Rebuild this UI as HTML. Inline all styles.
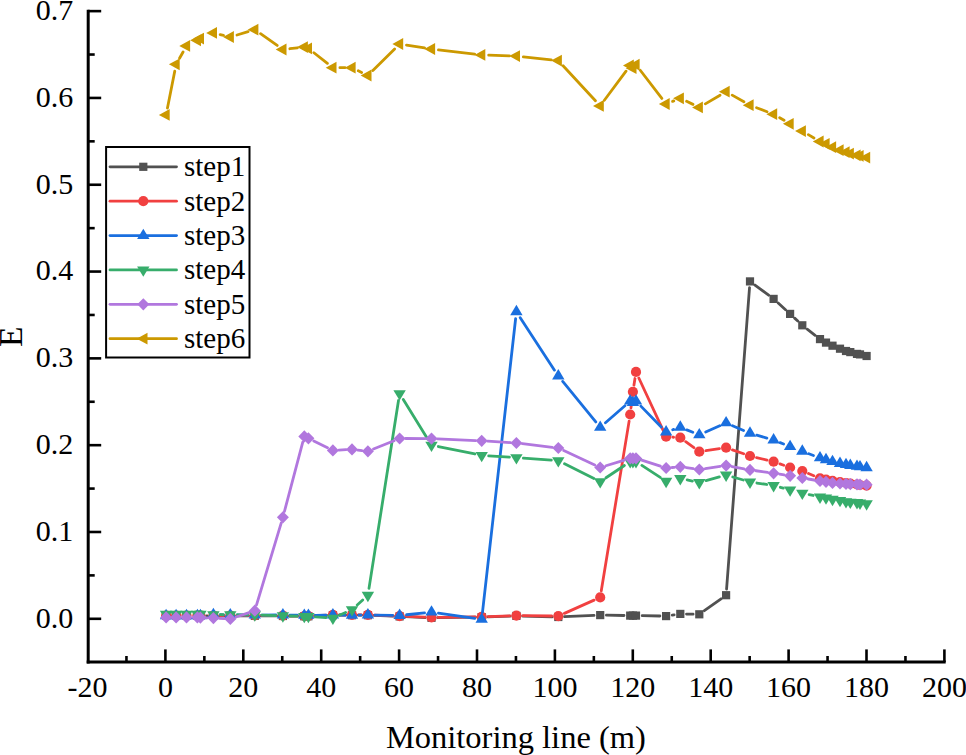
<!DOCTYPE html>
<html><head><meta charset="utf-8"><style>
html,body{margin:0;padding:0;background:#fff;}
svg{display:block;}
text{font-family:"Liberation Serif",serif;fill:#000;}
</style></head><body>
<svg width="966" height="755" viewBox="0 0 966 755">
<rect width="966" height="755" fill="#fff"/>
<path d="M206.60 615.80L207.20 615.80M219.60 615.80L224.10 615.80M236.50 615.80L248.60 615.80M261.00 615.84L276.70 615.96M289.10 616.09L298.10 616.21M314.59 616.02L326.71 615.48M339.10 615.20L345.80 615.20M358.20 615.20L361.70 615.20M374.10 615.43L393.40 616.17M405.79 616.67L425.31 617.53M437.70 617.71L475.50 617.19M487.90 616.89L510.20 616.11M522.60 616.06L552.10 616.84M564.49 616.72L594.01 615.38M606.40 615.20L624.00 615.50M642.20 615.70L659.90 616.00M672.23 615.15L674.17 614.85M686.50 614.03L693.10 614.17M704.35 610.70L721.05 598.80M726.57 589.02L749.53 287.58M754.98 285.09L768.62 295.21M778.19 303.07L785.51 309.73M794.63 318.13L797.77 321.07M807.19 329.11L815.11 335.29" stroke="#515151" stroke-width="2.8" fill="none" stroke-linecap="round"/>
<g><rect x="162.00" y="611.70" width="8.2" height="8.2" fill="#515151"/><rect x="172.00" y="611.70" width="8.2" height="8.2" fill="#515151"/><rect x="182.40" y="611.70" width="8.2" height="8.2" fill="#515151"/><rect x="193.30" y="611.70" width="8.2" height="8.2" fill="#515151"/><rect x="196.30" y="611.70" width="8.2" height="8.2" fill="#515151"/><rect x="209.30" y="611.70" width="8.2" height="8.2" fill="#515151"/><rect x="226.20" y="611.70" width="8.2" height="8.2" fill="#515151"/><rect x="250.70" y="611.70" width="8.2" height="8.2" fill="#515151"/><rect x="278.80" y="611.90" width="8.2" height="8.2" fill="#515151"/><rect x="300.20" y="612.20" width="8.2" height="8.2" fill="#515151"/><rect x="304.30" y="612.20" width="8.2" height="8.2" fill="#515151"/><rect x="328.80" y="611.10" width="8.2" height="8.2" fill="#515151"/><rect x="347.90" y="611.10" width="8.2" height="8.2" fill="#515151"/><rect x="363.80" y="611.10" width="8.2" height="8.2" fill="#515151"/><rect x="395.50" y="612.30" width="8.2" height="8.2" fill="#515151"/><rect x="427.40" y="613.70" width="8.2" height="8.2" fill="#515151"/><rect x="477.60" y="613.00" width="8.2" height="8.2" fill="#515151"/><rect x="512.30" y="611.80" width="8.2" height="8.2" fill="#515151"/><rect x="554.20" y="612.90" width="8.2" height="8.2" fill="#515151"/><rect x="596.10" y="611.00" width="8.2" height="8.2" fill="#515151"/><rect x="626.10" y="611.50" width="8.2" height="8.2" fill="#515151"/><rect x="628.80" y="611.50" width="8.2" height="8.2" fill="#515151"/><rect x="631.90" y="611.50" width="8.2" height="8.2" fill="#515151"/><rect x="662.00" y="612.00" width="8.2" height="8.2" fill="#515151"/><rect x="676.20" y="609.80" width="8.2" height="8.2" fill="#515151"/><rect x="695.20" y="610.20" width="8.2" height="8.2" fill="#515151"/><rect x="722.00" y="591.10" width="8.2" height="8.2" fill="#515151"/><rect x="745.90" y="277.30" width="8.2" height="8.2" fill="#515151"/><rect x="769.50" y="294.80" width="8.2" height="8.2" fill="#515151"/><rect x="786.00" y="309.80" width="8.2" height="8.2" fill="#515151"/><rect x="798.20" y="321.20" width="8.2" height="8.2" fill="#515151"/><rect x="815.90" y="335.00" width="8.2" height="8.2" fill="#515151"/><rect x="821.90" y="338.50" width="8.2" height="8.2" fill="#515151"/><rect x="828.40" y="341.60" width="8.2" height="8.2" fill="#515151"/><rect x="835.90" y="344.60" width="8.2" height="8.2" fill="#515151"/><rect x="841.90" y="346.90" width="8.2" height="8.2" fill="#515151"/><rect x="846.20" y="348.00" width="8.2" height="8.2" fill="#515151"/><rect x="852.90" y="349.80" width="8.2" height="8.2" fill="#515151"/><rect x="855.90" y="350.30" width="8.2" height="8.2" fill="#515151"/><rect x="862.50" y="351.90" width="8.2" height="8.2" fill="#515151"/></g>
<path d="M220.10 615.50L223.60 615.50M237.00 615.50L248.10 615.50M261.50 615.55L276.20 615.65M289.60 615.79L297.60 615.91M315.09 615.70L326.21 615.20M339.60 614.90L345.30 614.90M358.70 614.90L361.20 614.90M374.60 615.15L392.90 615.85M406.29 616.39L424.81 617.21M438.20 617.41L475.00 616.89M488.40 616.57L509.70 615.83M523.10 615.68L551.60 616.02M564.42 613.37L594.08 600.13M601.28 590.79L629.12 421.11M630.99 407.85L632.11 398.45M633.93 385.18L634.97 378.52M638.82 377.98L663.28 430.62M672.78 437.17L673.62 437.23M685.69 441.67L693.91 447.73M705.93 450.71L719.47 448.69M732.43 449.90L743.67 453.80M756.51 457.57L767.09 460.13M779.92 463.92L783.78 465.28M808.49 473.55L813.81 475.75" stroke="#F14040" stroke-width="2.8" fill="none" stroke-linecap="round"/>
<g><circle cx="166.10" cy="615.50" r="5.1" fill="#F14040"/><circle cx="176.10" cy="615.50" r="5.1" fill="#F14040"/><circle cx="186.50" cy="615.50" r="5.1" fill="#F14040"/><circle cx="197.40" cy="615.50" r="5.1" fill="#F14040"/><circle cx="200.40" cy="615.50" r="5.1" fill="#F14040"/><circle cx="213.40" cy="615.50" r="5.1" fill="#F14040"/><circle cx="230.30" cy="615.50" r="5.1" fill="#F14040"/><circle cx="254.80" cy="615.50" r="5.1" fill="#F14040"/><circle cx="282.90" cy="615.70" r="5.1" fill="#F14040"/><circle cx="304.30" cy="616.00" r="5.1" fill="#F14040"/><circle cx="308.40" cy="616.00" r="5.1" fill="#F14040"/><circle cx="332.90" cy="614.90" r="5.1" fill="#F14040"/><circle cx="352.00" cy="614.90" r="5.1" fill="#F14040"/><circle cx="367.90" cy="614.90" r="5.1" fill="#F14040"/><circle cx="399.60" cy="616.10" r="5.1" fill="#F14040"/><circle cx="431.50" cy="617.50" r="5.1" fill="#F14040"/><circle cx="481.70" cy="616.80" r="5.1" fill="#F14040"/><circle cx="516.40" cy="615.60" r="5.1" fill="#F14040"/><circle cx="558.30" cy="616.10" r="5.1" fill="#F14040"/><circle cx="600.20" cy="597.40" r="5.1" fill="#F14040"/><circle cx="630.20" cy="414.50" r="5.1" fill="#F14040"/><circle cx="632.90" cy="391.80" r="5.1" fill="#F14040"/><circle cx="636.00" cy="371.90" r="5.1" fill="#F14040"/><circle cx="666.10" cy="436.70" r="5.1" fill="#F14040"/><circle cx="680.30" cy="437.70" r="5.1" fill="#F14040"/><circle cx="699.30" cy="451.70" r="5.1" fill="#F14040"/><circle cx="726.10" cy="447.70" r="5.1" fill="#F14040"/><circle cx="750.00" cy="456.00" r="5.1" fill="#F14040"/><circle cx="773.60" cy="461.70" r="5.1" fill="#F14040"/><circle cx="790.10" cy="467.50" r="5.1" fill="#F14040"/><circle cx="802.30" cy="471.00" r="5.1" fill="#F14040"/><circle cx="820.00" cy="478.30" r="5.1" fill="#F14040"/><circle cx="826.00" cy="479.50" r="5.1" fill="#F14040"/><circle cx="832.50" cy="480.80" r="5.1" fill="#F14040"/><circle cx="840.00" cy="482.00" r="5.1" fill="#F14040"/><circle cx="846.00" cy="483.00" r="5.1" fill="#F14040"/><circle cx="850.30" cy="483.60" r="5.1" fill="#F14040"/><circle cx="857.00" cy="484.50" r="5.1" fill="#F14040"/><circle cx="860.00" cy="485.00" r="5.1" fill="#F14040"/><circle cx="866.60" cy="485.60" r="5.1" fill="#F14040"/></g>
<path d="M220.40 614.72L223.30 614.78M237.30 614.96L247.80 615.04M261.80 615.08L275.90 615.02M289.90 615.13L297.30 615.27M315.40 615.29L325.90 615.11M339.90 615.07L345.00 615.13M359.00 615.11L360.90 615.09M374.90 615.11L392.60 615.39M406.56 614.76L424.54 612.84M438.43 613.11L474.77 618.39M482.48 612.44L515.62 318.76M520.23 317.66L554.47 370.14M562.72 381.43L595.78 421.97M605.46 422.79L624.94 405.71M640.88 406.11L661.22 426.99M672.73 429.76L673.67 429.44M686.79 429.83L692.81 432.27M705.69 432.04L719.71 425.76M732.53 425.67L743.57 430.43M756.73 435.14L766.87 438.06M780.10 442.60L783.60 444.00M808.86 453.75L813.44 455.45" stroke="#1A6FDF" stroke-width="2.8" fill="none" stroke-linecap="round"/>
<g><polygon points="166.10,608.87 172.30,619.27 159.90,619.27" fill="#1A6FDF"/><polygon points="176.10,608.87 182.30,619.27 169.90,619.27" fill="#1A6FDF"/><polygon points="186.50,608.87 192.70,619.27 180.30,619.27" fill="#1A6FDF"/><polygon points="197.40,608.87 203.60,619.27 191.20,619.27" fill="#1A6FDF"/><polygon points="200.40,608.87 206.60,619.27 194.20,619.27" fill="#1A6FDF"/><polygon points="213.40,607.67 219.60,618.07 207.20,618.07" fill="#1A6FDF"/><polygon points="230.30,607.97 236.50,618.37 224.10,618.37" fill="#1A6FDF"/><polygon points="254.80,608.17 261.00,618.57 248.60,618.57" fill="#1A6FDF"/><polygon points="282.90,608.07 289.10,618.47 276.70,618.47" fill="#1A6FDF"/><polygon points="304.30,608.47 310.50,618.87 298.10,618.87" fill="#1A6FDF"/><polygon points="308.40,608.47 314.60,618.87 302.20,618.87" fill="#1A6FDF"/><polygon points="332.90,608.07 339.10,618.47 326.70,618.47" fill="#1A6FDF"/><polygon points="352.00,608.27 358.20,618.67 345.80,618.67" fill="#1A6FDF"/><polygon points="367.90,608.07 374.10,618.47 361.70,618.47" fill="#1A6FDF"/><polygon points="399.60,608.57 405.80,618.97 393.40,618.97" fill="#1A6FDF"/><polygon points="431.50,605.17 437.70,615.57 425.30,615.57" fill="#1A6FDF"/><polygon points="481.70,612.47 487.90,622.87 475.50,622.87" fill="#1A6FDF"/><polygon points="516.40,304.87 522.60,315.27 510.20,315.27" fill="#1A6FDF"/><polygon points="558.30,369.07 564.50,379.47 552.10,379.47" fill="#1A6FDF"/><polygon points="600.20,420.47 606.40,430.87 594.00,430.87" fill="#1A6FDF"/><polygon points="630.20,394.17 636.40,404.57 624.00,404.57" fill="#1A6FDF"/><polygon points="632.90,395.67 639.10,406.07 626.70,406.07" fill="#1A6FDF"/><polygon points="636.00,394.17 642.20,404.57 629.80,404.57" fill="#1A6FDF"/><polygon points="666.10,425.07 672.30,435.47 659.90,435.47" fill="#1A6FDF"/><polygon points="680.30,420.27 686.50,430.67 674.10,430.67" fill="#1A6FDF"/><polygon points="699.30,427.97 705.50,438.37 693.10,438.37" fill="#1A6FDF"/><polygon points="726.10,415.97 732.30,426.37 719.90,426.37" fill="#1A6FDF"/><polygon points="750.00,426.27 756.20,436.67 743.80,436.67" fill="#1A6FDF"/><polygon points="773.60,433.07 779.80,443.47 767.40,443.47" fill="#1A6FDF"/><polygon points="790.10,439.67 796.30,450.07 783.90,450.07" fill="#1A6FDF"/><polygon points="802.30,444.37 808.50,454.77 796.10,454.77" fill="#1A6FDF"/><polygon points="820.00,450.97 826.20,461.37 813.80,461.37" fill="#1A6FDF"/><polygon points="826.00,452.87 832.20,463.27 819.80,463.27" fill="#1A6FDF"/><polygon points="832.50,454.67 838.70,465.07 826.30,465.07" fill="#1A6FDF"/><polygon points="840.00,456.57 846.20,466.97 833.80,466.97" fill="#1A6FDF"/><polygon points="846.00,457.67 852.20,468.07 839.80,468.07" fill="#1A6FDF"/><polygon points="850.30,458.57 856.50,468.97 844.10,468.97" fill="#1A6FDF"/><polygon points="857.00,459.47 863.20,469.87 850.80,469.87" fill="#1A6FDF"/><polygon points="860.00,459.97 866.20,470.37 853.80,470.37" fill="#1A6FDF"/><polygon points="866.60,460.87 872.80,471.27 860.40,471.27" fill="#1A6FDF"/></g>
<path d="M220.40 614.68L223.30 614.72M237.30 614.80L247.80 614.80M261.80 615.05L275.90 615.55M289.90 616.00L297.30 616.20M315.38 616.88L325.92 617.62M339.30 615.25L345.60 612.45M357.20 604.92L362.70 599.98M368.99 588.38L398.51 400.52M403.29 399.55L427.81 439.15M438.36 446.51L474.84 453.99M488.69 455.84L509.41 457.16M523.38 458.10L551.32 460.10M564.56 463.74L593.94 478.46M606.02 477.72L624.38 465.48M641.87 465.42L660.23 477.38M687.15 479.94L692.45 481.06M706.04 480.61L719.36 476.89M732.82 476.97L743.28 480.03M756.92 483.03L766.68 484.47M780.36 487.30L783.34 488.10M809.14 494.61L813.16 495.49" stroke="#37AD6B" stroke-width="2.8" fill="none" stroke-linecap="round"/>
<g><polygon points="166.10,621.13 172.30,610.73 159.90,610.73" fill="#37AD6B"/><polygon points="176.10,621.13 182.30,610.73 169.90,610.73" fill="#37AD6B"/><polygon points="186.50,621.13 192.70,610.73 180.30,610.73" fill="#37AD6B"/><polygon points="197.40,621.13 203.60,610.73 191.20,610.73" fill="#37AD6B"/><polygon points="200.40,621.13 206.60,610.73 194.20,610.73" fill="#37AD6B"/><polygon points="213.40,621.53 219.60,611.13 207.20,611.13" fill="#37AD6B"/><polygon points="230.30,621.73 236.50,611.33 224.10,611.33" fill="#37AD6B"/><polygon points="254.80,621.73 261.00,611.33 248.60,611.33" fill="#37AD6B"/><polygon points="282.90,622.73 289.10,612.33 276.70,612.33" fill="#37AD6B"/><polygon points="304.30,623.33 310.50,612.93 298.10,612.93" fill="#37AD6B"/><polygon points="308.40,623.33 314.60,612.93 302.20,612.93" fill="#37AD6B"/><polygon points="332.90,625.03 339.10,614.63 326.70,614.63" fill="#37AD6B"/><polygon points="352.00,616.53 358.20,606.13 345.80,606.13" fill="#37AD6B"/><polygon points="367.90,602.23 374.10,591.83 361.70,591.83" fill="#37AD6B"/><polygon points="399.60,400.53 405.80,390.13 393.40,390.13" fill="#37AD6B"/><polygon points="431.50,452.03 437.70,441.63 425.30,441.63" fill="#37AD6B"/><polygon points="481.70,462.33 487.90,451.93 475.50,451.93" fill="#37AD6B"/><polygon points="516.40,464.53 522.60,454.13 510.20,454.13" fill="#37AD6B"/><polygon points="558.30,467.53 564.50,457.13 552.10,457.13" fill="#37AD6B"/><polygon points="600.20,488.53 606.40,478.13 594.00,478.13" fill="#37AD6B"/><polygon points="630.20,468.53 636.40,458.13 624.00,458.13" fill="#37AD6B"/><polygon points="632.90,468.53 639.10,458.13 626.70,458.13" fill="#37AD6B"/><polygon points="636.00,468.53 642.20,458.13 629.80,458.13" fill="#37AD6B"/><polygon points="666.10,488.13 672.30,477.73 659.90,477.73" fill="#37AD6B"/><polygon points="680.30,485.43 686.50,475.03 674.10,475.03" fill="#37AD6B"/><polygon points="699.30,489.43 705.50,479.03 693.10,479.03" fill="#37AD6B"/><polygon points="726.10,481.93 732.30,471.53 719.90,471.53" fill="#37AD6B"/><polygon points="750.00,488.93 756.20,478.53 743.80,478.53" fill="#37AD6B"/><polygon points="773.60,492.43 779.80,482.03 767.40,482.03" fill="#37AD6B"/><polygon points="790.10,496.83 796.30,486.43 783.90,486.43" fill="#37AD6B"/><polygon points="802.30,500.03 808.50,489.63 796.10,489.63" fill="#37AD6B"/><polygon points="820.00,503.93 826.20,493.53 813.80,493.53" fill="#37AD6B"/><polygon points="826.00,504.83 832.20,494.43 819.80,494.43" fill="#37AD6B"/><polygon points="832.50,506.23 838.70,495.83 826.30,495.83" fill="#37AD6B"/><polygon points="840.00,507.33 846.20,496.93 833.80,496.93" fill="#37AD6B"/><polygon points="846.00,508.53 852.20,498.13 839.80,498.13" fill="#37AD6B"/><polygon points="850.30,509.03 856.50,498.63 844.10,498.63" fill="#37AD6B"/><polygon points="857.00,509.43 863.20,499.03 850.80,499.03" fill="#37AD6B"/><polygon points="860.00,509.93 866.20,499.53 853.80,499.53" fill="#37AD6B"/><polygon points="866.60,510.63 872.80,500.23 860.40,500.23" fill="#37AD6B"/></g>
<path d="M206.40 617.83L207.40 617.87M219.39 618.38L224.31 618.62M235.99 617.00L249.11 612.60M256.53 604.95L281.17 523.05M284.43 511.50L302.77 442.20M313.78 440.96L327.52 447.74M338.89 450.09L346.01 449.71M357.96 450.11L361.94 450.59M373.46 449.05L394.04 440.75M405.60 438.52L425.50 438.58M437.49 438.86L475.71 440.54M487.69 441.18L510.41 442.62M522.36 443.71L552.34 447.29M563.74 450.53L594.76 464.97M605.94 465.74L624.46 460.06M641.71 460.14L660.39 466.16M672.08 467.49L674.32 467.31M686.24 467.64L693.36 468.66M705.24 468.64L720.16 466.46M732.01 466.66L744.09 468.84M755.94 470.76L767.66 472.44M779.53 474.20L784.17 474.90M808.22 479.00L814.08 480.00" stroke="#B177DE" stroke-width="2.8" fill="none" stroke-linecap="round"/>
<g><polygon points="166.10,611.30 172.10,617.40 166.10,623.50 160.10,617.40" fill="#B177DE"/><polygon points="176.10,611.30 182.10,617.40 176.10,623.50 170.10,617.40" fill="#B177DE"/><polygon points="186.50,611.30 192.50,617.40 186.50,623.50 180.50,617.40" fill="#B177DE"/><polygon points="197.40,611.30 203.40,617.40 197.40,623.50 191.40,617.40" fill="#B177DE"/><polygon points="200.40,611.50 206.40,617.60 200.40,623.70 194.40,617.60" fill="#B177DE"/><polygon points="213.40,612.00 219.40,618.10 213.40,624.20 207.40,618.10" fill="#B177DE"/><polygon points="230.30,612.80 236.30,618.90 230.30,625.00 224.30,618.90" fill="#B177DE"/><polygon points="254.80,604.60 260.80,610.70 254.80,616.80 248.80,610.70" fill="#B177DE"/><polygon points="282.90,511.20 288.90,517.30 282.90,523.40 276.90,517.30" fill="#B177DE"/><polygon points="304.30,430.30 310.30,436.40 304.30,442.50 298.30,436.40" fill="#B177DE"/><polygon points="308.40,432.20 314.40,438.30 308.40,444.40 302.40,438.30" fill="#B177DE"/><polygon points="332.90,444.30 338.90,450.40 332.90,456.50 326.90,450.40" fill="#B177DE"/><polygon points="352.00,443.30 358.00,449.40 352.00,455.50 346.00,449.40" fill="#B177DE"/><polygon points="367.90,445.20 373.90,451.30 367.90,457.40 361.90,451.30" fill="#B177DE"/><polygon points="399.60,432.40 405.60,438.50 399.60,444.60 393.60,438.50" fill="#B177DE"/><polygon points="431.50,432.50 437.50,438.60 431.50,444.70 425.50,438.60" fill="#B177DE"/><polygon points="481.70,434.70 487.70,440.80 481.70,446.90 475.70,440.80" fill="#B177DE"/><polygon points="516.40,436.90 522.40,443.00 516.40,449.10 510.40,443.00" fill="#B177DE"/><polygon points="558.30,441.90 564.30,448.00 558.30,454.10 552.30,448.00" fill="#B177DE"/><polygon points="600.20,461.40 606.20,467.50 600.20,473.60 594.20,467.50" fill="#B177DE"/><polygon points="630.20,452.20 636.20,458.30 630.20,464.40 624.20,458.30" fill="#B177DE"/><polygon points="632.90,452.20 638.90,458.30 632.90,464.40 626.90,458.30" fill="#B177DE"/><polygon points="636.00,452.20 642.00,458.30 636.00,464.40 630.00,458.30" fill="#B177DE"/><polygon points="666.10,461.90 672.10,468.00 666.10,474.10 660.10,468.00" fill="#B177DE"/><polygon points="680.30,460.70 686.30,466.80 680.30,472.90 674.30,466.80" fill="#B177DE"/><polygon points="699.30,463.40 705.30,469.50 699.30,475.60 693.30,469.50" fill="#B177DE"/><polygon points="726.10,459.50 732.10,465.60 726.10,471.70 720.10,465.60" fill="#B177DE"/><polygon points="750.00,463.80 756.00,469.90 750.00,476.00 744.00,469.90" fill="#B177DE"/><polygon points="773.60,467.20 779.60,473.30 773.60,479.40 767.60,473.30" fill="#B177DE"/><polygon points="790.10,469.70 796.10,475.80 790.10,481.90 784.10,475.80" fill="#B177DE"/><polygon points="802.30,471.90 808.30,478.00 802.30,484.10 796.30,478.00" fill="#B177DE"/><polygon points="820.00,474.90 826.00,481.00 820.00,487.10 814.00,481.00" fill="#B177DE"/><polygon points="826.00,475.70 832.00,481.80 826.00,487.90 820.00,481.80" fill="#B177DE"/><polygon points="832.50,476.80 838.50,482.90 832.50,489.00 826.50,482.90" fill="#B177DE"/><polygon points="840.00,477.40 846.00,483.50 840.00,489.60 834.00,483.50" fill="#B177DE"/><polygon points="846.00,477.70 852.00,483.80 846.00,489.90 840.00,483.80" fill="#B177DE"/><polygon points="850.30,478.00 856.30,484.10 850.30,490.20 844.30,484.10" fill="#B177DE"/><polygon points="857.00,478.20 863.00,484.30 857.00,490.40 851.00,484.30" fill="#B177DE"/><polygon points="860.00,478.40 866.00,484.50 860.00,490.60 854.00,484.50" fill="#B177DE"/><polygon points="866.60,478.60 872.60,484.70 866.60,490.80 860.60,484.70" fill="#B177DE"/></g>
<path d="M167.46 108.03L174.74 71.17M179.54 58.21L183.06 51.99M220.20 34.55L223.50 35.35M237.01 35.00L248.09 31.70M260.52 33.73L277.18 45.47M289.86 48.72L297.34 47.88M313.90 52.73L327.40 63.37M339.90 67.70L345.00 67.70M358.28 70.78L361.62 72.42M372.87 70.57L394.63 48.93M406.52 45.08L424.58 47.92M438.45 49.82L474.75 54.08M488.70 55.14L509.40 55.86M523.36 56.85L551.34 59.85M563.05 65.74L595.45 100.76M604.37 100.28L626.03 71.12M640.26 70.26L661.84 98.44M672.60 101.39L673.80 100.91M686.61 101.32L692.99 104.38M705.34 103.86L720.06 95.24M732.19 95.14L743.91 101.76M756.54 107.69L767.06 111.71M779.65 117.72L784.05 120.28M808.34 134.65L813.96 137.95" stroke="#CC9900" stroke-width="2.8" fill="none" stroke-linecap="round"/>
<g><polygon points="158.90,114.90 169.70,109.00 169.70,120.80" fill="#CC9900"/><polygon points="168.90,64.30 179.70,58.40 179.70,70.20" fill="#CC9900"/><polygon points="179.30,45.90 190.10,40.00 190.10,51.80" fill="#CC9900"/><polygon points="190.20,40.30 201.00,34.40 201.00,46.20" fill="#CC9900"/><polygon points="193.20,38.60 204.00,32.70 204.00,44.50" fill="#CC9900"/><polygon points="206.20,32.90 217.00,27.00 217.00,38.80" fill="#CC9900"/><polygon points="223.10,37.00 233.90,31.10 233.90,42.90" fill="#CC9900"/><polygon points="247.60,29.70 258.40,23.80 258.40,35.60" fill="#CC9900"/><polygon points="275.70,49.50 286.50,43.60 286.50,55.40" fill="#CC9900"/><polygon points="297.10,47.10 307.90,41.20 307.90,53.00" fill="#CC9900"/><polygon points="301.20,48.40 312.00,42.50 312.00,54.30" fill="#CC9900"/><polygon points="325.70,67.70 336.50,61.80 336.50,73.60" fill="#CC9900"/><polygon points="344.80,67.70 355.60,61.80 355.60,73.60" fill="#CC9900"/><polygon points="360.70,75.50 371.50,69.60 371.50,81.40" fill="#CC9900"/><polygon points="392.40,44.00 403.20,38.10 403.20,49.90" fill="#CC9900"/><polygon points="424.30,49.00 435.10,43.10 435.10,54.90" fill="#CC9900"/><polygon points="474.50,54.90 485.30,49.00 485.30,60.80" fill="#CC9900"/><polygon points="509.20,56.10 520.00,50.20 520.00,62.00" fill="#CC9900"/><polygon points="551.10,60.60 561.90,54.70 561.90,66.50" fill="#CC9900"/><polygon points="593.00,105.90 603.80,100.00 603.80,111.80" fill="#CC9900"/><polygon points="623.00,65.50 633.80,59.60 633.80,71.40" fill="#CC9900"/><polygon points="625.70,68.20 636.50,62.30 636.50,74.10" fill="#CC9900"/><polygon points="628.80,64.70 639.60,58.80 639.60,70.60" fill="#CC9900"/><polygon points="658.90,104.00 669.70,98.10 669.70,109.90" fill="#CC9900"/><polygon points="673.10,98.30 683.90,92.40 683.90,104.20" fill="#CC9900"/><polygon points="692.10,107.40 702.90,101.50 702.90,113.30" fill="#CC9900"/><polygon points="718.90,91.70 729.70,85.80 729.70,97.60" fill="#CC9900"/><polygon points="742.80,105.20 753.60,99.30 753.60,111.10" fill="#CC9900"/><polygon points="766.40,114.20 777.20,108.30 777.20,120.10" fill="#CC9900"/><polygon points="782.90,123.80 793.70,117.90 793.70,129.70" fill="#CC9900"/><polygon points="795.10,131.10 805.90,125.20 805.90,137.00" fill="#CC9900"/><polygon points="812.80,141.50 823.60,135.60 823.60,147.40" fill="#CC9900"/><polygon points="818.80,143.80 829.60,137.90 829.60,149.70" fill="#CC9900"/><polygon points="825.30,147.20 836.10,141.30 836.10,153.10" fill="#CC9900"/><polygon points="832.80,150.20 843.60,144.30 843.60,156.10" fill="#CC9900"/><polygon points="838.80,152.20 849.60,146.30 849.60,158.10" fill="#CC9900"/><polygon points="843.10,153.60 853.90,147.70 853.90,159.50" fill="#CC9900"/><polygon points="849.80,155.30 860.60,149.40 860.60,161.20" fill="#CC9900"/><polygon points="852.80,155.90 863.60,150.00 863.60,161.80" fill="#CC9900"/><polygon points="859.40,157.60 870.20,151.70 870.20,163.50" fill="#CC9900"/></g>
<line x1="88.2" y1="9.8" x2="88.2" y2="663.5" stroke="#000" stroke-width="3.0"/><line x1="86.7" y1="662.0" x2="945.7" y2="662.0" stroke="#000" stroke-width="3.0"/><line x1="88" y1="618.80" x2="101.2" y2="618.80" stroke="#000" stroke-width="2.6"/><line x1="88" y1="531.99" x2="101.2" y2="531.99" stroke="#000" stroke-width="2.6"/><line x1="88" y1="445.18" x2="101.2" y2="445.18" stroke="#000" stroke-width="2.6"/><line x1="88" y1="358.37" x2="101.2" y2="358.37" stroke="#000" stroke-width="2.6"/><line x1="88" y1="271.56" x2="101.2" y2="271.56" stroke="#000" stroke-width="2.6"/><line x1="88" y1="184.75" x2="101.2" y2="184.75" stroke="#000" stroke-width="2.6"/><line x1="88" y1="97.94" x2="101.2" y2="97.94" stroke="#000" stroke-width="2.6"/><line x1="88" y1="11.13" x2="101.2" y2="11.13" stroke="#000" stroke-width="2.6"/><line x1="88" y1="575.39" x2="94.7" y2="575.39" stroke="#000" stroke-width="2.6"/><line x1="88" y1="488.58" x2="94.7" y2="488.58" stroke="#000" stroke-width="2.6"/><line x1="88" y1="401.77" x2="94.7" y2="401.77" stroke="#000" stroke-width="2.6"/><line x1="88" y1="314.96" x2="94.7" y2="314.96" stroke="#000" stroke-width="2.6"/><line x1="88" y1="228.15" x2="94.7" y2="228.15" stroke="#000" stroke-width="2.6"/><line x1="88" y1="141.34" x2="94.7" y2="141.34" stroke="#000" stroke-width="2.6"/><line x1="88" y1="54.53" x2="94.7" y2="54.53" stroke="#000" stroke-width="2.6"/><line x1="165.40" y1="662" x2="165.40" y2="649.4" stroke="#000" stroke-width="2.6"/><line x1="243.30" y1="662" x2="243.30" y2="649.4" stroke="#000" stroke-width="2.6"/><line x1="321.20" y1="662" x2="321.20" y2="649.4" stroke="#000" stroke-width="2.6"/><line x1="399.10" y1="662" x2="399.10" y2="649.4" stroke="#000" stroke-width="2.6"/><line x1="477.00" y1="662" x2="477.00" y2="649.4" stroke="#000" stroke-width="2.6"/><line x1="554.90" y1="662" x2="554.90" y2="649.4" stroke="#000" stroke-width="2.6"/><line x1="632.80" y1="662" x2="632.80" y2="649.4" stroke="#000" stroke-width="2.6"/><line x1="710.70" y1="662" x2="710.70" y2="649.4" stroke="#000" stroke-width="2.6"/><line x1="788.60" y1="662" x2="788.60" y2="649.4" stroke="#000" stroke-width="2.6"/><line x1="866.50" y1="662" x2="866.50" y2="649.4" stroke="#000" stroke-width="2.6"/><line x1="944.40" y1="662" x2="944.40" y2="649.4" stroke="#000" stroke-width="2.6"/><line x1="126.45" y1="662" x2="126.45" y2="656" stroke="#000" stroke-width="2.6"/><line x1="204.35" y1="662" x2="204.35" y2="656" stroke="#000" stroke-width="2.6"/><line x1="282.25" y1="662" x2="282.25" y2="656" stroke="#000" stroke-width="2.6"/><line x1="360.15" y1="662" x2="360.15" y2="656" stroke="#000" stroke-width="2.6"/><line x1="438.05" y1="662" x2="438.05" y2="656" stroke="#000" stroke-width="2.6"/><line x1="515.95" y1="662" x2="515.95" y2="656" stroke="#000" stroke-width="2.6"/><line x1="593.85" y1="662" x2="593.85" y2="656" stroke="#000" stroke-width="2.6"/><line x1="671.75" y1="662" x2="671.75" y2="656" stroke="#000" stroke-width="2.6"/><line x1="749.65" y1="662" x2="749.65" y2="656" stroke="#000" stroke-width="2.6"/><line x1="827.55" y1="662" x2="827.55" y2="656" stroke="#000" stroke-width="2.6"/><line x1="905.45" y1="662" x2="905.45" y2="656" stroke="#000" stroke-width="2.6"/>
<text x="73.2" y="627.70" font-size="30" text-anchor="end">0.0</text><text x="73.2" y="540.89" font-size="30" text-anchor="end">0.1</text><text x="73.2" y="454.08" font-size="30" text-anchor="end">0.2</text><text x="73.2" y="367.27" font-size="30" text-anchor="end">0.3</text><text x="73.2" y="280.46" font-size="30" text-anchor="end">0.4</text><text x="73.2" y="193.65" font-size="30" text-anchor="end">0.5</text><text x="73.2" y="106.84" font-size="30" text-anchor="end">0.6</text><text x="73.2" y="20.03" font-size="30" text-anchor="end">0.7</text><text x="87.50" y="697.4" font-size="30" text-anchor="middle">-20</text><text x="165.40" y="697.4" font-size="30" text-anchor="middle">0</text><text x="243.30" y="697.4" font-size="30" text-anchor="middle">20</text><text x="321.20" y="697.4" font-size="30" text-anchor="middle">40</text><text x="399.10" y="697.4" font-size="30" text-anchor="middle">60</text><text x="477.00" y="697.4" font-size="30" text-anchor="middle">80</text><text x="554.90" y="697.4" font-size="30" text-anchor="middle">100</text><text x="632.80" y="697.4" font-size="30" text-anchor="middle">120</text><text x="710.70" y="697.4" font-size="30" text-anchor="middle">140</text><text x="788.60" y="697.4" font-size="30" text-anchor="middle">160</text><text x="866.50" y="697.4" font-size="30" text-anchor="middle">180</text><text x="944.40" y="697.4" font-size="30" text-anchor="middle">200</text>
<text x="515.9" y="747.8" font-size="32.5" text-anchor="middle">Monitoring line (m)</text>
<text transform="translate(22.3,336.7) rotate(-90)" x="0" y="0" font-size="33.5" text-anchor="middle">E</text>
<rect x="106.1" y="147" width="143.4" height="210.5" fill="#fff" stroke="#000" stroke-width="2"/><line x1="110" y1="166.80" x2="176.5" y2="166.80" stroke="#515151" stroke-width="2.8" stroke-linecap="round"/><rect x="139.20" y="162.70" width="8.2" height="8.2" fill="#515151"/><text x="184" y="176.30" font-size="29">step1</text><line x1="110" y1="201.18" x2="176.5" y2="201.18" stroke="#F14040" stroke-width="2.8" stroke-linecap="round"/><circle cx="143.30" cy="201.18" r="5.1" fill="#F14040"/><text x="184" y="210.68" font-size="29">step2</text><line x1="110" y1="235.56" x2="176.5" y2="235.56" stroke="#1A6FDF" stroke-width="2.8" stroke-linecap="round"/><polygon points="143.30,228.63 149.50,239.03 137.10,239.03" fill="#1A6FDF"/><text x="184" y="245.06" font-size="29">step3</text><line x1="110" y1="269.94" x2="176.5" y2="269.94" stroke="#37AD6B" stroke-width="2.8" stroke-linecap="round"/><polygon points="143.30,276.87 149.50,266.47 137.10,266.47" fill="#37AD6B"/><text x="184" y="279.44" font-size="29">step4</text><line x1="110" y1="304.32" x2="176.5" y2="304.32" stroke="#B177DE" stroke-width="2.8" stroke-linecap="round"/><polygon points="143.30,298.22 149.30,304.32 143.30,310.42 137.30,304.32" fill="#B177DE"/><text x="184" y="313.82" font-size="29">step5</text><line x1="110" y1="338.70" x2="176.5" y2="338.70" stroke="#CC9900" stroke-width="2.8" stroke-linecap="round"/><polygon points="136.70,338.70 147.50,332.80 147.50,344.60" fill="#CC9900"/><text x="184" y="348.20" font-size="29">step6</text>
</svg>
</body></html>
